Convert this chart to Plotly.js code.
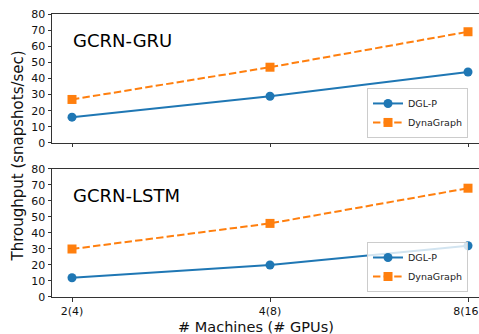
<!DOCTYPE html>
<html><head><meta charset="utf-8">
<script src="https://cdn.plot.ly/plotly-3.0.1.min.js"></script>
<style>html,body{margin:0;padding:0;overflow:hidden;width:479px;height:334px;background:#fff}</style>
</head><body><div id="chart" style="width:500px;height:334px"></div>
<script>
const categories = ["2(4)", "4(8)", "8(16)"];
const gruDGLP = [16, 29, 44];
const gruDynaGraph = [27, 47, 69];
const lstmDGLP = [12, 20, 32];
const lstmDynaGraph = [30, 46, 68];
const yTicks = [0, 10, 20, 30, 40, 50, 60, 70, 80];

const blue = '#1f77b4', orange = '#ff7f0e';
const font = 'DejaVu Sans, sans-serif';
const xs = categories.map((c, i) => i);

function tr(y, name, color, dash, symbol, xa, ya, legend) {
  return {x: xs, y: y, name: name, type: 'scatter', mode: 'lines+markers',
    line: {color: color, width: 2, dash: dash}, marker: {color: color, size: 9, symbol: symbol},
    xaxis: xa, yaxis: ya, legend: legend};
}
const data = [
  tr(gruDGLP, 'DGL-P', blue, 'solid', 'circle', 'x', 'y', 'legend'),
  tr(gruDynaGraph, 'DynaGraph', orange, '7.4px,3.2px', 'square', 'x', 'y', 'legend'),
  tr(lstmDGLP, 'DGL-P', blue, 'solid', 'circle', 'x2', 'y2', 'legend2'),
  tr(lstmDynaGraph, 'DynaGraph', orange, '7.4px,3.2px', 'square', 'x2', 'y2', 'legend2')
];
const axBase = {showline: true, mirror: true, linecolor: '#333', linewidth: 1, showgrid: false, zeroline: false,
  ticks: 'outside', ticklen: 3.5, tickcolor: '#333', tickfont: {family: font, size: 11, color: '#111'}};
const yax = d => Object.assign({}, axBase, {domain: d, range: [0, 80], tickvals: yTicks, ticktext: yTicks.map(String)});
const xax = (show, anchor) => Object.assign({}, axBase, {range: [-0.101, 2.101], tickvals: xs, ticktext: categories,
  showticklabels: show, anchor: anchor});
const legendBase = {x: 0.7225, xanchor: 'left', yanchor: 'bottom', bgcolor: 'rgba(255,255,255,0.8)',
  bordercolor: '#ccc', borderwidth: 1, font: {family: font, size: 9.5, color: '#222'}, tracegroupgap: 0};
const layout = {
  width: 500, height: 334, margin: {l: 52, r: 12, t: 14, b: 37},
  paper_bgcolor: '#fff', plot_bgcolor: '#fff', font: {family: font},
  xaxis: xax(false, 'y'), yaxis: yax([0.5442, 1]),
  xaxis2: xax(true, 'y2'), yaxis2: yax([0, 0.4523]),
  legend: Object.assign({}, legendBase, {y: 0.562}),
  legend2: Object.assign({}, legendBase, {y: 0.0177}),
  annotations: [
    {text: 'GCRN-GRU', xref: 'paper', yref: 'paper', x: 0.043, y: 0.905, xanchor: 'left', yanchor: 'middle', showarrow: false, font: {family: font, size: 18, color: '#000'}},
    {text: 'GCRN-LSTM', xref: 'paper', yref: 'paper', x: 0.043, y: 0.36, xanchor: 'left', yanchor: 'middle', showarrow: false, font: {family: font, size: 18, color: '#000'}},
    {text: 'Throughput (snapshots/sec)', xref: 'paper', yref: 'paper', x: -0.078, y: 0.5, xanchor: 'center', yanchor: 'middle', textangle: -90, showarrow: false, font: {family: font, size: 15, color: '#111'}},
    {text: '# Machines (# GPUs)', xref: 'paper', yref: 'paper', x: 0.468, y: -0.106, xanchor: 'center', yanchor: 'middle', showarrow: false, font: {family: font, size: 14.5, color: '#111'}}
  ]
};
Plotly.newPlot('chart', data, layout, {displayModeBar: false, staticPlot: true});
</script></body></html>
